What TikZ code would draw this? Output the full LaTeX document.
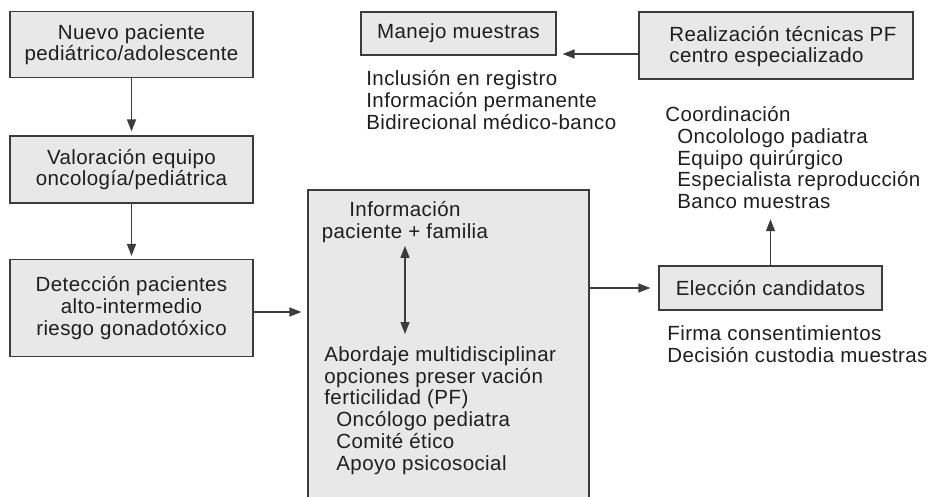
\documentclass[tikz,border=0pt]{standalone}
\usepackage{fontspec}
\setmainfont{Liberation Sans}[LetterSpace=2]
\usetikzlibrary{arrows.meta}
\definecolor{boxfill}{RGB}{232,232,232}
\definecolor{lineclr}{RGB}{60,60,60}
\definecolor{txtclr}{RGB}{30,30,30}
\tikzset{every picture/.style={line width=0.75pt}}

\begin{document}
\begin{tikzpicture}[x=1pt,y=1pt,yscale=-1,xscale=1,
  font=\fontsize{20.5}{21.8}\selectfont,
  box/.style={draw=lineclr,fill=boxfill,line width=1.2pt,text=txtclr,align=center,inner sep=0.75pt},
  txt/.style={text=txtclr,align=left,inner sep=0pt},
  arr/.style={draw=lineclr,line width=1.3pt,-{Triangle[length=12pt,width=9pt]}},
  dblarr/.style={draw=lineclr,line width=1.3pt,{Triangle[length=12pt,width=9pt]}-{Triangle[length=12pt,width=9pt]}}]
\useasboundingbox (0,0) rectangle (929,497);

%Shape: Rectangle
\node[box,minimum width=243,minimum height=66] (nuevo) at (131.5,44.7) {Nuevo paciente\\pediátrico/adolescente};
%Shape: Rectangle
\node[box,minimum width=243,minimum height=67] (valoracion) at (131.5,169.5) {Valoración equipo\\oncología/pediátrica};
%Shape: Rectangle
\node[box,minimum width=243,minimum height=97] (deteccion) at (131.5,308) {Detección pacientes\\alto-intermedio\\riesgo gonadotóxico};
%Shape: Rectangle
\node[box,minimum width=281,minimum height=340,anchor=north] (abordaje) at (448.5,189.5) {};
%Shape: Rectangle
\node[box,minimum width=195,minimum height=43] (manejo) at (458.5,33.5) {Manejo muestras};
%Shape: Rectangle
\node[box,minimum width=274,minimum height=67] (realiz) at (776,45.5) {};
%Shape: Rectangle
\node[box,minimum width=223,minimum height=44] (eleccion) at (770.5,288) {Elección candidatos};

% Text Node
\node[txt,anchor=west] (realiztxt) at (669,46.5) {Realización técnicas PF\\centro especializado};
% Text Node
\node[txt,align=center,anchor=north] (info) at (405,201) {Información\\paciente + familia};
% Text Node
\node[txt,anchor=north west] (multi) at (324,346) {Abordaje multidisciplinar\\opciones preser vación\\ferticilidad (PF)\\\hspace*{12pt}Oncólogo pediatra\\\hspace*{12pt}Comité ético\\\hspace*{12pt}Apoyo psicosocial};
% Text Node
\node[txt,anchor=north west] (registro) at (366,70) {Inclusión en registro\\Información permanente\\Bidirecional médico-banco};
% Text Node
\node[txt,anchor=north west] (coord) at (665,106) {Coordinación\\\hspace*{12pt}Oncolologo padiatra\\\hspace*{12pt}Equipo quirúrgico\\\hspace*{12pt}Especialista reproducción\\\hspace*{12pt}Banco muestras};
% Text Node
\node[txt,anchor=north west] (firma) at (667,325) {Firma consentimientos\\Decisión custodia muestras};

%Straight Lines
\draw[arr,shorten >=4pt] (nuevo) -- (valoracion);
\draw[arr,shorten >=3pt] (valoracion) -- (deteccion);
\draw[arr,shorten >=6pt] ([yshift=4pt]deteccion.east) -- ([yshift=4pt]deteccion.east -| abordaje.west);
\draw[dblarr,shorten <=3pt,shorten >=12pt] (info.south) -- (info.south |- multi.north);
\draw[arr,shorten >=8pt] (abordaje.east |- eleccion) -- (eleccion.west);
\draw[arr,shorten >=10pt] (eleccion.north) -- (eleccion.north |- coord.south);
\draw[arr,shorten >=6pt] ([yshift=8.5pt]realiz.west) -- ([yshift=8.5pt]realiz.west -| manejo.east);

\end{tikzpicture}
\end{document}
